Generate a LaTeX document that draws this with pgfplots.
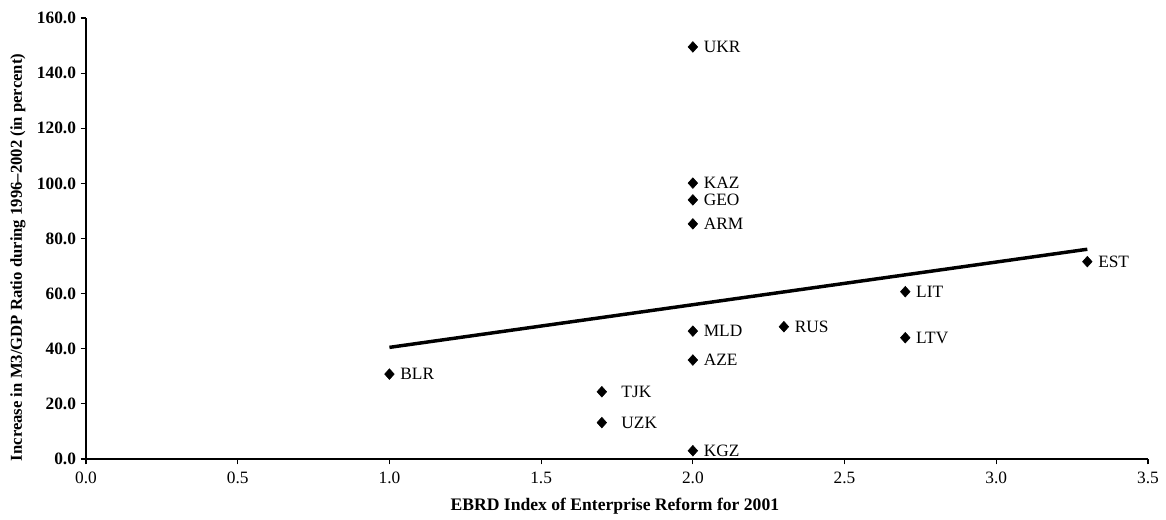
\documentclass[border=0pt]{standalone}
\usepackage{pgfplots}
\pgfplotsset{compat=1.18}
\usepackage{fontspec}
\setmainfont{Liberation Serif}
\begin{document}
\begin{tikzpicture}
\path[use as bounding box] (-64.5pt,-45.75pt) rectangle (810pt,344.25pt);
\begin{axis}[
  at={(0,0)}, anchor=origin,
  scale only axis, width=796.5pt, height=330.75pt,
  xmin=0, xmax=3.5, ymin=0, ymax=160,
  axis x line=bottom, axis y line=left,
  axis line style={-, line width=0.9pt},
  xtick={0,0.5,...,3.5}, ytick={0,20,...,160},
  tick align=outside, major tick length=4pt,
  tick style={line width=0.8pt, black},
  /pgf/number format/assume math mode=true,
  xticklabel style={/pgf/number format/.cd, fixed, fixed zerofill, precision=1, /tikz/.cd, font=\fontsize{13}{15}\selectfont, yshift=-2pt},
  yticklabel style={/pgf/number format/.cd, fixed, fixed zerofill, precision=1, /tikz/.cd, font=\fontsize{13}{15}\selectfont\bfseries},
  xlabel={EBRD Index of Enterprise Reform for 2001},
  ylabel={Increase in M3/GDP Ratio during 1996--2002 (in percent)},
  xlabel style={font=\fontsize{13.2}{15}\selectfont\bfseries, at={(axis description cs:0.498,0)}, anchor=center, yshift=-35.5pt},
  ylabel style={font=\fontsize{12.5}{14}\selectfont\bfseries, at={([xshift=-51pt]axis description cs:0,0.457)}, anchor=center},
  clip=false,
]
\addplot[black, line width=2.6pt] coordinates {(1.0,40.5) (3.3,76.1)};
\addplot[only marks, mark=diamond*, mark size=4pt, mark options={xscale=1.2}, black,
  nodes near coords, point meta=explicit symbolic,
  every node near coord/.append style={anchor=west, xshift=7pt, font=\fontsize{13}{15}\selectfont, inner sep=1pt}]
  table[meta=label] {
x y label
2.0 149.5 UKR
2.0 100.1 KAZ
2.0 94.0 GEO
2.0 85.3 ARM
3.3 71.6 EST
2.7 60.7 LIT
2.7 44.0 LTV
2.3 48.0 RUS
2.0 46.4 MLD
2.0 35.9 AZE
1.0 30.8 BLR
2.0 3.0 KGZ
};
\addplot[only marks, mark=diamond*, mark size=4pt, mark options={xscale=1.2}, black,
  nodes near coords, point meta=explicit symbolic,
  every node near coord/.append style={anchor=west, xshift=13.5pt, font=\fontsize{13}{15}\selectfont, inner sep=1pt}]
  table[meta=label] {
x y label
1.7 24.4 TJK
1.7 13.2 UZK
};
\end{axis}
\end{tikzpicture}
\end{document}
